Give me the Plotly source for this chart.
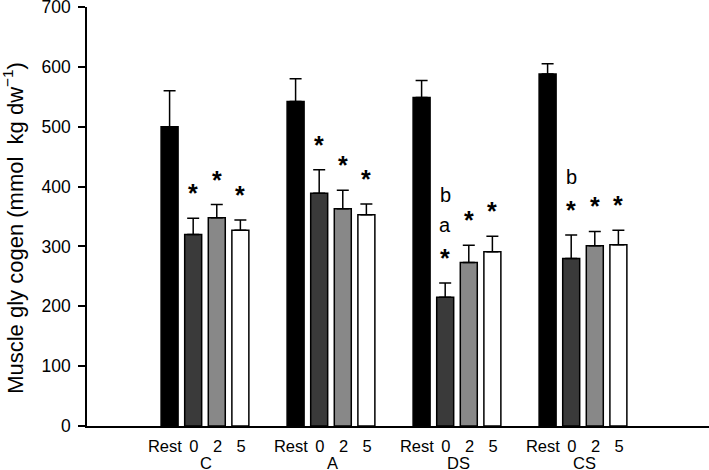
import plotly.graph_objects as go

groups = ["C", "A", "DS", "CS"]
conditions = ["Rest", "0", "2", "5"]
rest = [500, 542, 549, 588]
t0 = [320, 389, 215, 280]
t2 = [348, 363, 273, 301]
t5 = [327, 353, 291, 303]
rest_err = [60, 38, 28, 17]
t0_err = [27, 39, 24, 39]
t2_err = [22, 31, 29, 24]
t5_err = [17, 18, 26, 24]
# significance marks per group, per condition (bottom to top)
marks = {
    "C": [[], ["*"], ["*"], ["*"]],
    "A": [[], ["*"], ["*"], ["*"]],
    "DS": [[], ["*", "a", "b"], ["*"], ["*"]],
    "CS": [[], ["*", "b"], ["*"], ["*"]],
}

values = [rest, t0, t2, t5]
errors = [rest_err, t0_err, t2_err, t5_err]
fills = ["#000000", "#3a3a3a", "#888888", "#ffffff"]
label_nudge = [-0.2, 0.03, 0.03, 0.03]
group_gap = 5.34
FONT = "Liberation Sans, Arial, sans-serif"

fig = go.Figure()
tickvals, ticktext = [], []
for ci, cond in enumerate(conditions):
    xs = [gi * group_gap + ci for gi in range(len(groups))]
    fig.add_trace(go.Bar(
        x=xs, y=values[ci], width=0.72,
        marker=dict(color=fills[ci], line=dict(color="#000000", width=1.5)),
        error_y=dict(type="data", symmetric=False, array=errors[ci],
                     arrayminus=[0] * len(groups), color="#000000",
                     thickness=1.5, width=6),
        showlegend=False,
    ))
    tickvals += [x + label_nudge[ci] for x in xs]
    ticktext += [cond] * len(groups)

annotations = []
for gi, g in enumerate(groups):
    for ci in range(len(conditions)):
        x = gi * group_gap + ci
        top = values[ci][gi] + errors[ci][gi]
        for k, m in enumerate(marks[g][ci]):
            star = m == "*"
            annotations.append(dict(
                x=x, y=top, xref="x", yref="y",
                text="<b>*</b>" if star else m, showarrow=False,
                yanchor="middle", yshift=(25 if star else 28) + k * 30,
                font=dict(size=25 if star else 20, color="#000000", family=FONT),
            ))
    annotations.append(dict(
        x=gi * group_gap + 1.55, y=0, xref="x", yref="paper", text=g,
        showarrow=False, yanchor="middle", yshift=-37,
        font=dict(size=16.5, color="#000000", family=FONT),
    ))

annotations.append(dict(
    x=-0.118, y=0.472, xref="paper", yref="paper", textangle=-90,
    text="Muscle gly cogen (mmol  kg dw<sup>\u22121</sup>)", showarrow=False,
    xanchor="center", yanchor="middle",
    font=dict(size=22, color="#000000", family=FONT),
))

fig.update_layout(
    width=709, height=470,
    margin=dict(l=87, r=0, t=7, b=44),
    paper_bgcolor="#ffffff", plot_bgcolor="#ffffff",
    barmode="overlay",
    font=dict(family=FONT, size=16, color="#000000"),
    xaxis=dict(range=[-3.5, 22.86], tickvals=tickvals, ticktext=ticktext,
               showline=True, linecolor="#000000", linewidth=1.5,
               showgrid=False, zeroline=False, ticks="", ticklabelstandoff=4,
               tickfont=dict(size=16.5), automargin=False,
               ticklabeloverflow="allow"),
    yaxis=dict(range=[0, 700], dtick=100, showline=True, linecolor="#000000",
               linewidth=1.5, showgrid=False, zeroline=False, ticks="outside",
               ticklen=7, tickwidth=1.5, tickcolor="#000000",
               tickfont=dict(size=17.5), automargin=False, ticklabelstandoff=4,
               ticklabeloverflow="allow"),
    annotations=annotations,
)

fig.write_html("out.html", config={"displayModeBar": False},
               post_script="document.body.style.margin='0';document.body.style.overflow='hidden';")
